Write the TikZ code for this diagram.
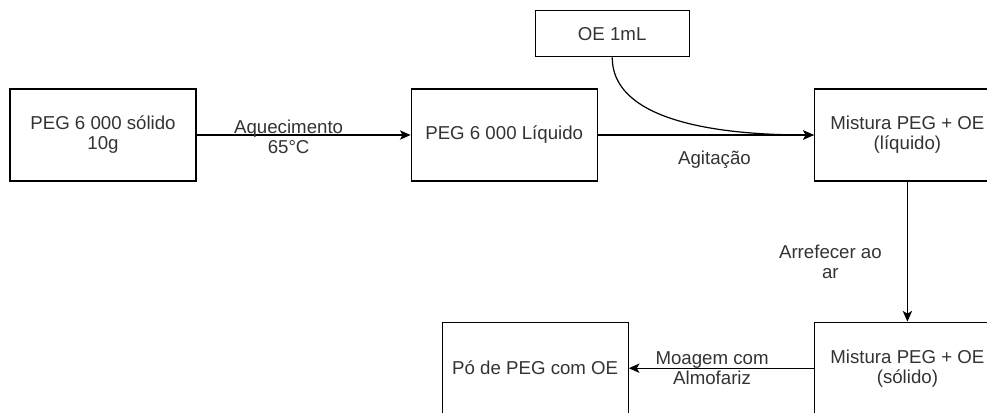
\documentclass[tikz,border=0pt]{standalone}
\usepackage{fontspec}
\setmainfont{Liberation Sans}
\usepackage{xcolor}
\usepackage{tikz}
\usetikzlibrary{arrows.meta,calc,positioning}

\begin{document}
\begin{tikzpicture}[
      node distance=105pt and 160.5pt,
      box/.style={draw=black, line width=0.9pt, minimum width=139.5pt,
        minimum height=69pt, align=center, text=black!80,
        font=\fontsize{14}{15}\selectfont, inner sep=4pt},
      smallbox/.style={box, minimum width=115.5pt, minimum height=34.5pt},
      lbl/.style={align=center, text=black!80, font=\fontsize{14}{15}\selectfont},
      arrow/.style={-{Stealth[length=8pt, width=7pt, inset=2pt]}, line width=0.9pt, draw=black}
    ]
    \useasboundingbox (0,0) rectangle (740.25pt,-309pt);

    \node[box] (solido) at (77.25pt,-101.25pt) {PEG 6 000 sólido\\10g};
    \node[box, right=of solido] (liquido) {PEG 6 000 Líquido};
    \node[box, right=162pt of liquido] (mixLiq) {Mistura PEG + OE\\(líquido)};
    \node[smallbox, above=23.25pt of liquido, xshift=81pt] (oe) {OE 1mL};
    \node[box, below=of mixLiq] (mixSol) {Mistura PEG + OE\\(sólido)};
    \node[box, left=138.75pt of mixSol] (po) {Pó de PEG com OE};

    \draw[arrow] (solido) -- node[lbl, pos=0.43, yshift=-1.5pt] {Aquecimento\\65°C} (liquido);
    \draw[arrow] (liquido) -- node[lbl, pos=0.54, yshift=-18.75pt] {Agitação} (mixLiq);
    \draw[arrow] (oe.south) to[out=-90, in=180, out looseness=0.7, in looseness=1.3] (mixLiq.west);
    \draw[arrow] (mixLiq) -- node[lbl, pos=0.57, xshift=-57.75pt] {Arrefecer ao\\ar} (mixSol);
    \draw[arrow] (mixSol) -- node[lbl, pos=0.55] {Moagem com\\Almofariz} (po);
  \end{tikzpicture}
\end{document}
